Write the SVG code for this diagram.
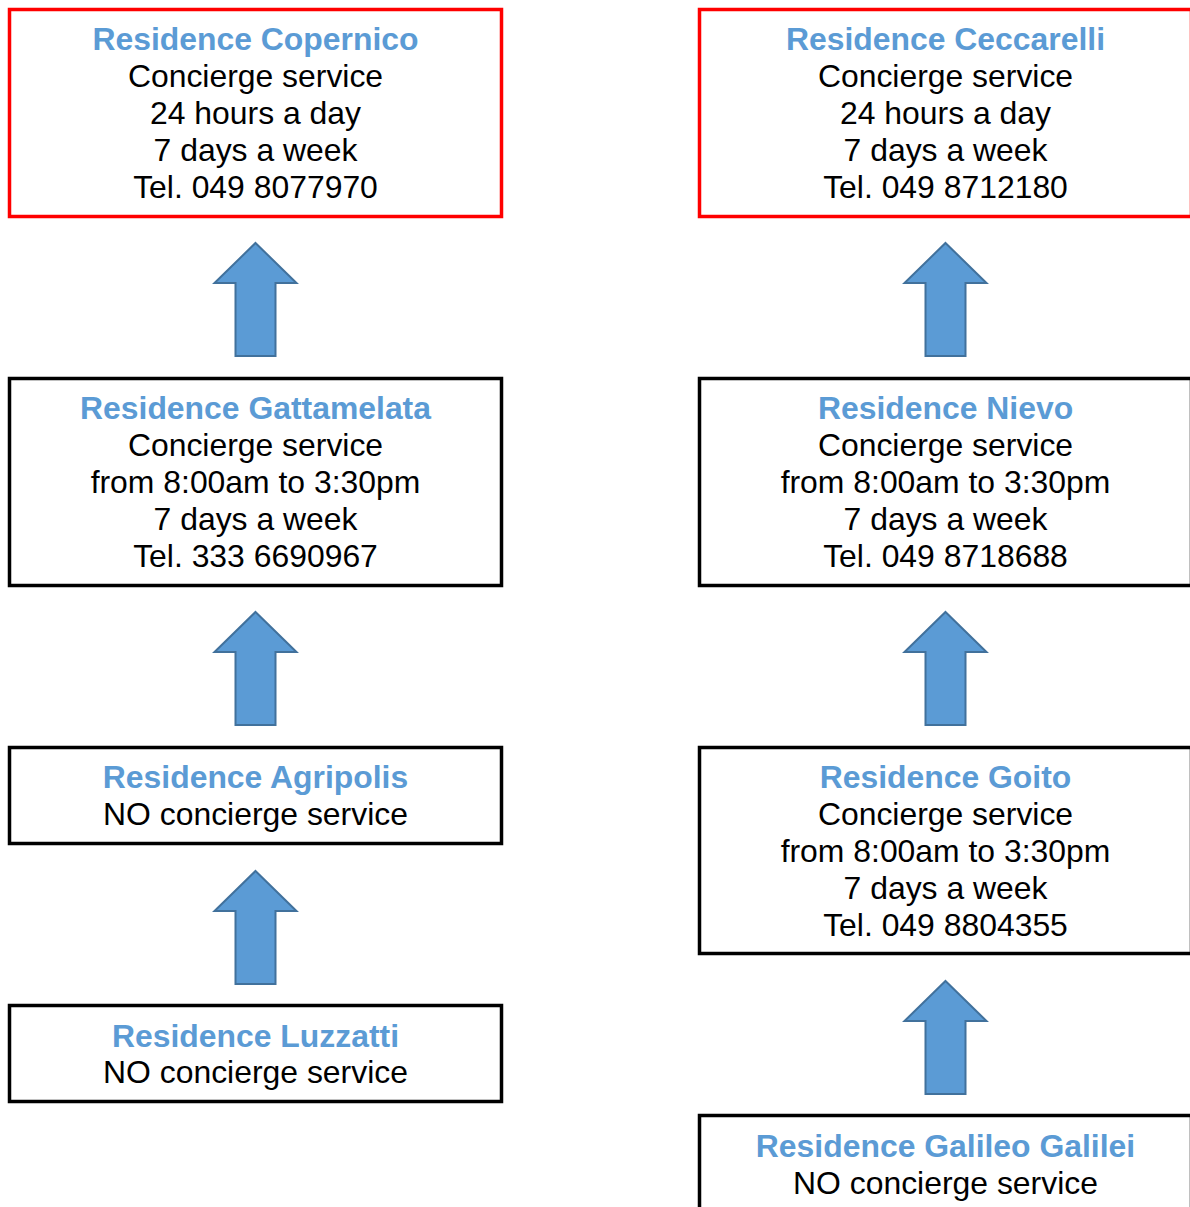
<svg xmlns="http://www.w3.org/2000/svg" width="1190" height="1207" viewBox="0 0 1190 1207">
<style>
.box{fill:#fff;stroke:#000;stroke-width:3.5}
.red{stroke:#ff0000}
.t{font-family:"Liberation Sans",Arial,sans-serif;font-size:31.9px;text-anchor:middle;fill:#000}
.h{font-weight:bold;fill:#5b9bd5}
.arr{fill:#5b9bd5;stroke:#41719c;stroke-width:2}
</style>
<defs>
<path id="up" d="M0,0 L41,40 L20,40 L20,113 L-20,113 L-20,40 L-41,40 Z"/>
</defs>
<rect width="1190" height="1207" fill="#fff"/>
<g id="connectors">
<use href="#up" class="arr" x="255.5" y="243"/>
<use href="#up" class="arr" x="255.5" y="612"/>
<use href="#up" class="arr" x="255.5" y="871"/>
<use href="#up" class="arr" x="945.5" y="243"/>
<use href="#up" class="arr" x="945.5" y="612"/>
<use href="#up" class="arr" x="945.5" y="981"/>
</g>
<g id="copernico">
<rect class="box red" x="9.5" y="9.5" width="492" height="207"/>
<text class="t h" x="255.5" y="50">Residence Copernico</text>
<text class="t" x="255.5" y="87">Concierge service</text>
<text class="t" x="255.5" y="124">24 hours a day</text>
<text class="t" x="255.5" y="160.5">7 days a week</text>
<text class="t" x="255.5" y="197.5">Tel. 049 8077970</text>
</g>
<g id="ceccarelli">
<rect class="box red" x="699.5" y="9.5" width="492" height="207"/>
<text class="t h" x="945.5" y="50">Residence Ceccarelli</text>
<text class="t" x="945.5" y="87">Concierge service</text>
<text class="t" x="945.5" y="124">24 hours a day</text>
<text class="t" x="945.5" y="160.5">7 days a week</text>
<text class="t" x="945.5" y="197.5">Tel. 049 8712180</text>
</g>
<g id="gattamelata">
<rect class="box" x="9.5" y="378.5" width="492" height="207"/>
<text class="t h" x="255.5" y="419">Residence Gattamelata</text>
<text class="t" x="255.5" y="456">Concierge service</text>
<text class="t" x="255.5" y="493">from 8:00am to 3:30pm</text>
<text class="t" x="255.5" y="529.5">7 days a week</text>
<text class="t" x="255.5" y="566.5">Tel. 333 6690967</text>
</g>
<g id="nievo">
<rect class="box" x="699.5" y="378.5" width="492" height="207"/>
<text class="t h" x="945.5" y="419">Residence Nievo</text>
<text class="t" x="945.5" y="456">Concierge service</text>
<text class="t" x="945.5" y="493">from 8:00am to 3:30pm</text>
<text class="t" x="945.5" y="529.5">7 days a week</text>
<text class="t" x="945.5" y="566.5">Tel. 049 8718688</text>
</g>
<g id="agripolis">
<rect class="box" x="9.5" y="747.5" width="492" height="96"/>
<text class="t h" x="255.5" y="788">Residence Agripolis</text>
<text class="t" x="255.5" y="825">NO concierge service</text>
</g>
<g id="goito">
<rect class="box" x="699.5" y="747.5" width="492" height="206"/>
<text class="t h" x="945.5" y="788">Residence Goito</text>
<text class="t" x="945.5" y="825">Concierge service</text>
<text class="t" x="945.5" y="862">from 8:00am to 3:30pm</text>
<text class="t" x="945.5" y="898.5">7 days a week</text>
<text class="t" x="945.5" y="935.5">Tel. 049 8804355</text>
</g>
<g id="luzzatti">
<rect class="box" x="9.5" y="1005.5" width="492" height="96"/>
<text class="t h" x="255.5" y="1047">Residence Luzzatti</text>
<text class="t" x="255.5" y="1083">NO concierge service</text>
</g>
<g id="galilei">
<rect class="box" x="699.5" y="1115.5" width="492" height="110"/>
<text class="t h" x="945.5" y="1157">Residence Galileo Galilei</text>
<text class="t" x="945.5" y="1194">NO concierge service</text>
</g>
</svg>
